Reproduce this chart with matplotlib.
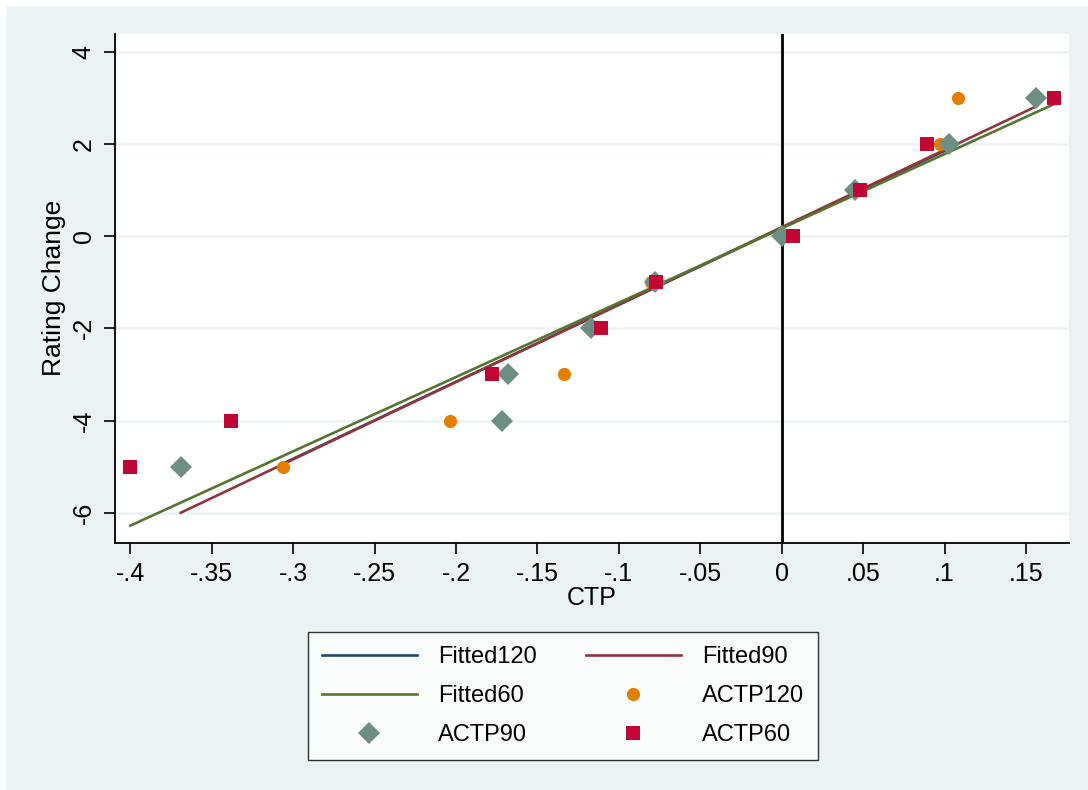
import matplotlib
matplotlib.use("Agg")
import matplotlib.pyplot as plt
from matplotlib.patches import Rectangle
from matplotlib.lines import Line2D

plt.rcParams['font.family'] = ['Liberation Sans', 'DejaVu Sans']

# ---- data ----
ctp60 = [-0.400, -0.338, -0.178, -0.111, -0.077, 0.007, 0.048, 0.089, 0.167]
rc60 = [-5, -4, -3, -2, -1, 0, 1, 2, 3]
ctp90 = [-0.369, -0.172, -0.168, -0.117, -0.078, 0.000, 0.045, 0.103, 0.156]
rc90 = [-5, -4, -3, -2, -1, 0, 1, 2, 3]
ctp120 = [-0.306, -0.204, -0.134, -0.115, -0.080, 0.000, 0.046, 0.097, 0.108]
rc120 = [-5, -4, -3, -2, -1, 0, 1, 2, 3]

# fitted lines (endpoints)
fit120_x = [-0.306, 0.103]
fit120_y = [-4.93, 1.90]
fit90_x = [-0.369, 0.156]
fit90_y = [-6.00, 2.81]
fit60_x = [-0.400, 0.167]
fit60_y = [-6.28, 2.86]

xticks = [-0.4, -0.35, -0.3, -0.25, -0.2, -0.15, -0.1, -0.05, 0, 0.05, 0.1, 0.15]
xticklabels = ['-.4', '-.35', '-.3', '-.25', '-.2', '-.15', '-.1', '-.05', '0', '.05', '.1', '.15']
yticks = [4, 2, 0, -2, -4, -6]
yticklabels = ['4', '2', '0', '-2', '-4', '-6']

c_navy = '#1A476F'
c_maroon = '#90353B'
c_green = '#55752F'
c_orange = '#E37E00'
c_teal = '#6E8E84'
c_cran = '#C10534'
bg = '#EAF2F3'

W, H = 1088, 790
fig = plt.figure(figsize=(W / 100, H / 100), dpi=100)
fig.patch.set_facecolor('white')
fig.patches.append(Rectangle((6 / W, 0), 1 - 6 / W, 1 - 6 / H, transform=fig.transFigure,
                             facecolor=bg, edgecolor='none', zorder=-10))

ax = fig.add_axes([115 / W, 1 - 542.5 / H, (1069 - 115) / W, (542.5 - 34) / H])
ax.set_facecolor('white')
ax.set_xlim(-0.4094, 0.1764)
ax.set_ylim(-6.646, 4.384)

for y in yticks:
    ax.axhline(y, color=bg, lw=1.8, zorder=0)
ax.axvline(0, color='black', lw=2.0, zorder=1)

l120, = ax.plot(fit120_x, fit120_y, color=c_navy, lw=1.9, zorder=2, label='Fitted120')
l90, = ax.plot(fit90_x, fit90_y, color=c_maroon, lw=1.9, zorder=2, label='Fitted90')
l60, = ax.plot(fit60_x, fit60_y, color=c_green, lw=1.9, zorder=2, label='Fitted60')
s120, = ax.plot(ctp120, rc120, 'o', color=c_orange, ms=9.5, mew=0, zorder=3, label='ACTP120')
s90, = ax.plot(ctp90, rc90, 'D', color=c_teal, ms=11, mew=0, zorder=4, label='ACTP90')
s60, = ax.plot(ctp60, rc60, 's', color=c_cran, ms=10.5, mew=0, zorder=5, label='ACTP60')

for s in ['top', 'right']:
    ax.spines[s].set_visible(False)
for s in ['left', 'bottom']:
    ax.spines[s].set_linewidth(1.3)
    ax.spines[s].set_color('black')

ax.set_xticks(xticks)
ax.set_xticklabels(xticklabels, fontsize=18)
ax.set_yticks(yticks)
ax.set_yticklabels(yticklabels, fontsize=18, rotation=90, va='center')
ax.tick_params(axis='both', direction='out', length=8, width=1.2, colors='black')
ax.tick_params(axis='x', pad=6)
ax.tick_params(axis='y', pad=6)

ax.set_xlabel('CTP', fontsize=18, labelpad=0)
ax.set_ylabel('Rating Change', fontsize=19, labelpad=4)

handles = [l120, l60, s90, l90, s120, s60]
leg = fig.legend(handles=handles, labels=[h.get_label() for h in handles],
                 ncol=2, loc='upper center', bbox_to_anchor=(563 / W, 1 - 632 / H),
                 fontsize=17, frameon=True, fancybox=False, edgecolor='black',
                 handlelength=4.0, handletextpad=0.9, columnspacing=2.1,
                 labelspacing=0.72, borderpad=0.6, borderaxespad=0)
leg.get_frame().set_linewidth(1.0)
leg.get_frame().set_facecolor('white')

fig.savefig('out.png', dpi=100, facecolor=fig.get_facecolor())
